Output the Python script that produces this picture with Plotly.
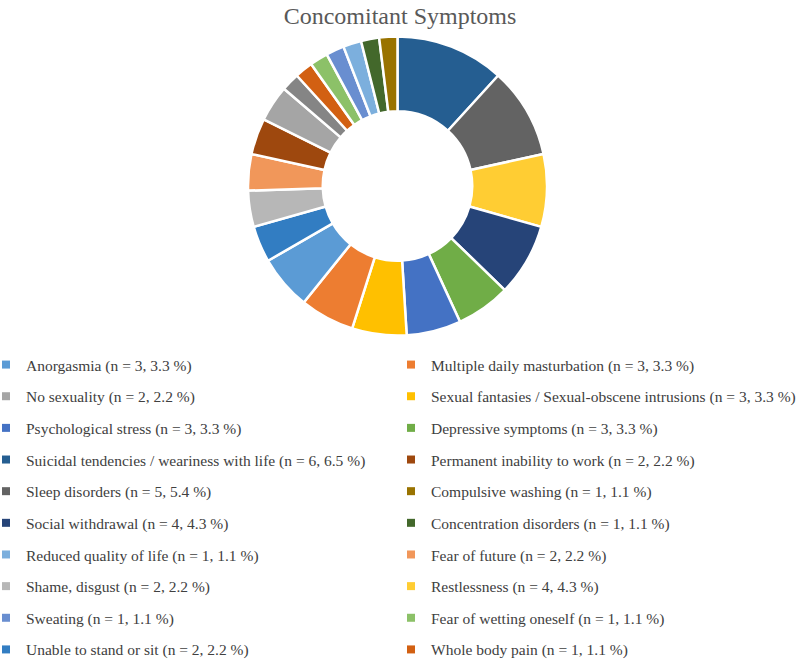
import plotly.graph_objects as go

# ---- data (legend order) ----
labels = [
    "Anorgasmia", "Multiple daily masturbation", "No sexuality",
    "Sexual fantasies / Sexual-obscene intrusions", "Psychological stress",
    "Depressive symptoms", "Suicidal tendencies / weariness with life",
    "Permanent inability to work", "Sleep disorders", "Compulsive washing",
    "Social withdrawal", "Concentration disorders", "Reduced quality of life",
    "Fear of future", "Shame, disgust", "Restlessness", "Sweating",
    "Fear of wetting oneself", "Unable to stand or sit", "Whole body pain",
]
counts = [3, 3, 2, 3, 3, 3, 6, 2, 5, 1, 4, 1, 1, 2, 2, 4, 1, 1, 2, 1]
percents = [3.3, 3.3, 2.2, 3.3, 3.3, 3.3, 6.5, 2.2, 5.4, 1.1, 4.3, 1.1, 1.1,
            2.2, 2.2, 4.3, 1.1, 1.1, 2.2, 1.1]
# one additional small slice visible in the donut but not in the (cropped) legend
extra_label = "Other"
extra_count = 1

colors = [
    "#5B9BD5", "#ED7D31", "#A5A5A5", "#FFC000", "#4472C4", "#70AD47",
    "#255E91", "#9E480E", "#636363", "#997300", "#264478", "#43682B",
    "#7CAFDD", "#F1975A", "#B7B7B7", "#FFCD33", "#698ED0", "#8CC168",
    "#327DC2", "#D26012",
]
extra_color = "#858585"

# ---- pie order: descending by value, ties in reverse series order ----
all_labels = labels + [extra_label]
all_counts = counts + [extra_count]
all_colors = colors + [extra_color]
order = sorted(range(len(all_labels)), key=lambda i: (-all_counts[i], -i))

fig = go.Figure()
fig.add_trace(go.Pie(
    labels=[all_labels[i] for i in order],
    values=[all_counts[i] for i in order],
    marker=dict(colors=[all_colors[i] for i in order],
                line=dict(color="white", width=2.5)),
    hole=0.5,
    sort=False,
    direction="clockwise",
    rotation=0,
    textinfo="none",
    hoverinfo="label+value",
    showlegend=False,
    domain=dict(x=[248 / 800, 547 / 800], y=[1 - 335.5 / 661, 1 - 36.5 / 661]),
))

# ---- legend entries (two columns, row-major) ----
for i, (lab, n, p, c) in enumerate(zip(labels, counts, percents, colors)):
    fig.add_trace(go.Scatter(
        x=[None], y=[None], mode="markers",
        marker=dict(symbol="square", size=8, color=c),
        name=f"{lab} (n = {n}, {p} %)",
        legend="legend" if i % 2 == 0 else "legend2",
        legendgroup=f"g{i}",
        showlegend=True,
    ))

legend_common = dict(
    orientation="v",
    yanchor="top",
    y=1 - 348 / 661,
    xanchor="left",
    bgcolor="rgba(0,0,0,0)",
    borderwidth=0,
    tracegroupgap=8.5,
    font=dict(family="Liberation Serif", size=15.5, color="#404040"),
    itemclick=False,
    itemdoubleclick=False,
)

fig.update_layout(
    width=800, height=661,
    margin=dict(l=0, r=0, t=0, b=0, autoexpand=False),
    paper_bgcolor="white",
    plot_bgcolor="white",
    title=dict(
        text="Concomitant Symptoms",
        x=0.5, xanchor="center",
        y=1 - 16 / 661, yanchor="middle", yref="container",
        font=dict(family="Liberation Serif", size=24, color="#595959"),
    ),
    xaxis=dict(visible=False),
    yaxis=dict(visible=False),
    legend=dict(x=-14 / 800, **legend_common),
    legend2=dict(x=391 / 800, **legend_common),
)

fig.write_html("out.html")
